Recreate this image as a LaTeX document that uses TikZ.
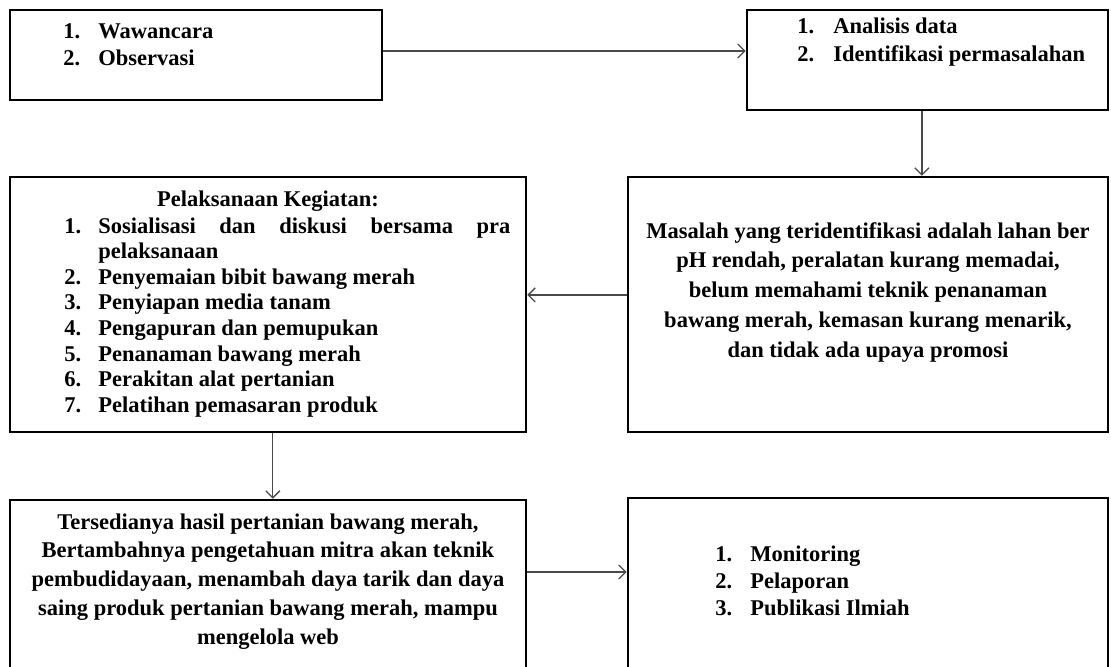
\documentclass[tikz,border=0pt]{standalone}
\usepackage{fontspec}
\setmainfont{Liberation Serif}
\usetikzlibrary{arrows.meta, positioning, calc}
\definecolor{arrgray}{HTML}{4A4A4A}

\newcommand{\listfont}{\fontsize{16}{19.2}\selectfont\bfseries}
\newcommand{\kgtfont}{\fontsize{16}{18.25}\selectfont\bfseries}
\newcommand{\parafont}{\fontsize{16}{21.2}\selectfont\bfseries}
\newcommand{\hslfont}{\fontsize{16}{20.6}\selectfont\bfseries}

\begin{document}
\begin{tikzpicture}[
  x=0.025cm, y=-0.025cm,
  panel/.style={rectangle, draw=black, line width=1.8pt, inner sep=0pt},
  txt/.style={inner sep=0pt, font=\listfont},
  para/.style={inner sep=0pt, font=\parafont},
  arr/.style={-{Straight Barb[length=5pt,width=10pt]}, arrgray, line width=0.9pt},
]
  \useasboundingbox (0,0) rectangle (1111,666);
  \clip (0,0) rectangle (1111,666);

  % boxes
  \node[panel, minimum width=9.3cm,   minimum height=2.25cm]  (obs)   at (196,55)    {};
  \node[panel, minimum width=9.025cm, minimum height=2.5cm]   (anl)   at (927.5,60)  {};
  \node[panel, minimum width=12cm,    minimum height=6.375cm] (msl)   at (868,304.5) {};
  \node[panel, minimum width=12.9cm,  minimum height=6.375cm] (kgt)   at (268,304.5) {};
  \node[panel, minimum width=12.9cm,  minimum height=5.5cm]   (hsl)   at (268,610)   {};
  \node[panel, minimum width=12cm,    minimum height=5.55cm]  (mon)   at (868,609)   {};

  % texts
  \node[txt, anchor=base west] (obsT) at (63,38)
    {\begin{tabular}[t]{@{}p{0.875cm}@{}l@{}}1. & Wawancara\\ 2. & Observasi\end{tabular}};
  \node[txt, anchor=base west] (anlT) at (797,33)
    {\begin{tabular}[t]{@{}p{0.9cm}@{}l@{}}1. & Analisis data\\[1.3pt] 2. & Identifikasi permasalahan\end{tabular}};
  \node[para, anchor=base] (mslT) at (868,238)
    {\begin{tabular}[t]{@{}c@{}}Masalah yang teridentifikasi adalah lahan ber\\
      pH rendah, peralatan kurang memadai,\\
      belum memahami teknik penanaman\\
      bawang merah, kemasan kurang menarik,\\
      dan tidak ada upaya promosi\end{tabular}};
  \node[txt, anchor=base] (kgtH) at (268,206) {Pelaksanaan Kegiatan:};
  \node[txt, font=\kgtfont, anchor=base west] (kgtT) at (64,233)
    {\begin{tabular}[t]{@{}p{0.85cm}@{}l@{}}
      1. & \hbox to 10.3cm{Sosialisasi\hfill dan\hfill diskusi\hfill bersama\hfill pra}\\
         & pelaksanaan\\
      2. & Penyemaian bibit bawang merah\\
      3. & Penyiapan media tanam\\
      4. & Pengapuran dan pemupukan\\
      5. & Penanaman bawang merah\\
      6. & Perakitan alat pertanian\\
      7. & Pelatihan pemasaran produk\end{tabular}};
  \node[para, font=\hslfont, anchor=base] (hslT) at (268,529)
    {\begin{tabular}[t]{@{}c@{}}Tersedianya hasil pertanian bawang merah,\\
      Bertambahnya pengetahuan mitra akan teknik\\
      pembudidayaan, menambah daya tarik dan daya\\
      saing produk pertanian bawang merah, mampu\\
      mengelola web\end{tabular}};
  \node[txt, anchor=base west] (monT) at (715,561)
    {\begin{tabular}[t]{@{}p{0.875cm}@{}l@{}}1. & Monitoring\\ 2. & Pelaporan\\ 3. & Publikasi Ilmiah\end{tabular}};

  % connectors
  \draw[arr] ([yshift=0.1cm]obs.east) -- ([yshift=0.1cm]obs.east -| anl.west);
  \draw[arr] ([xshift=-0.14cm]anl.south) -- ([xshift=-0.14cm]anl.south |- msl.north);
  \draw[arr] ([yshift=0.24cm]msl.west) -- ([yshift=0.24cm]msl.west -| kgt.east);
  \draw[arr] ([xshift=0.12cm]kgt.south) -- ([xshift=0.12cm]kgt.south |- hsl.north);
  \draw[arr] ([yshift=0.95cm]hsl.east) -- ([yshift=0.95cm]hsl.east -| mon.west);
\end{tikzpicture}
\end{document}
